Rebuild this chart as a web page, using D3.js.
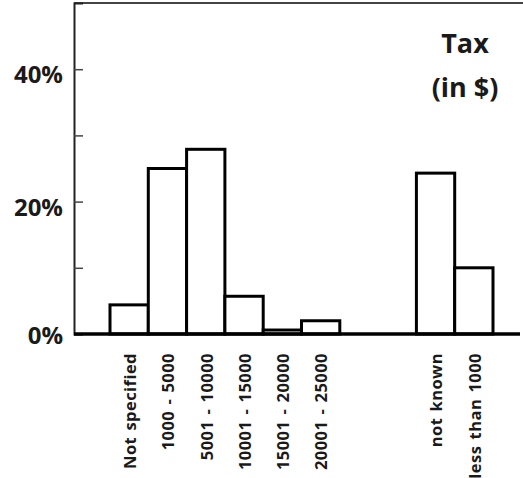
<!DOCTYPE html>
<html>
<head>
<meta charset="utf-8">
<script src="https://cdn.jsdelivr.net/npm/d3@7"></script>
<style>
  html, body { margin: 0; padding: 0; background: #fff; }
  svg { display: block; }
  text { font-family: "Open Sans", "Noto Sans", sans-serif; font-weight: 700; fill: #1a1a1a; }
</style>
</head>
<body>
<svg id="chart" width="523" height="478"></svg>
<script>
const categories = ["Not specified", "1000 - 5000", "5001 - 10000", "10001 - 15000", "15001 - 20000", "20001 - 25000", "not known", "less than 1000"];
const values = [4.4, 25.0, 27.9, 5.7, 0.6, 2.0, 24.3, 10.0];
const gapSlots = ["gap-1", "gap-2"];
const majorTicks = [0, 20, 40];
const minorTicks = [10, 30];
const tickLabels = ["0%", "20%", "40%"];
const titleLines = ["Tax", "(in $)"];

const W = 523, H = 478;
const axisX = 74, baseY = 334, topY = 3;
const svg = d3.select("#chart");

const slots = categories.slice(0, 6).concat(gapSlots, categories.slice(6));
const x = d3.scaleBand().domain(slots).range([110, 493]).padding(0);
const y = d3.scaleLinear().domain([0, 50]).range([baseY, topY]);

// top frame line
svg.append("line")
  .attr("x1", axisX).attr("x2", W).attr("y1", topY).attr("y2", topY)
  .attr("stroke", "#444").attr("stroke-width", 2);

// left axis
const yAxis = d3.axisLeft(y).tickValues(majorTicks).tickSize(-9).tickPadding(11)
  .tickFormat((d, i) => tickLabels[i]);
const gy = svg.append("g").attr("transform", `translate(${axisX},0)`).call(yAxis);
gy.select(".domain").attr("stroke", "#222").attr("stroke-width", 2);
gy.selectAll(".tick line").attr("stroke", "#444").attr("stroke-width", 1.5);
gy.selectAll(".tick text")
  .attr("font-size", 24).attr("font-family", "Open Sans, sans-serif").attr("font-weight", 700)
  .attr("fill", "#1a1a1a")
  .attr("dy", d => d === 0 ? "0.4em" : "0.56em");

const gMinor = svg.append("g").attr("transform", `translate(${axisX},0)`)
  .call(d3.axisLeft(y).tickValues(minorTicks).tickSize(-9).tickFormat(""));
gMinor.select(".domain").remove();
gMinor.selectAll(".tick line").attr("stroke", "#444").attr("stroke-width", 1.5);

// bars
svg.append("g").selectAll("rect")
  .data(categories)
  .join("rect")
  .attr("x", d => x(d))
  .attr("width", x.bandwidth())
  .attr("y", (d, i) => y(values[i]))
  .attr("height", (d, i) => y(0) - y(values[i]))
  .attr("fill", "#fff")
  .attr("stroke", "#000")
  .attr("stroke-width", 3);

// baseline
svg.append("line")
  .attr("x1", axisX).attr("x2", 520).attr("y1", baseY).attr("y2", baseY)
  .attr("stroke", "#000").attr("stroke-width", 3.5);

// category labels
svg.append("g").selectAll("text")
  .data(categories)
  .join("text")
  .attr("transform", d => `translate(${x(d) + x.bandwidth() / 2 + 1},353) rotate(-90)`)
  .attr("text-anchor", "end")
  .attr("dy", "0.35em")
  .attr("font-size", 16.5)
  .style("letter-spacing", "0.45px")
  .style("word-spacing", "1.5px")
  .text(d => d);

// title
svg.append("g").selectAll("text")
  .data(titleLines)
  .join("text")
  .attr("x", 465)
  .attr("y", (d, i) => 53 + i * 44)
  .attr("text-anchor", "middle")
  .attr("font-size", 27)
  .text(d => d);
</script>
</body>
</html>
